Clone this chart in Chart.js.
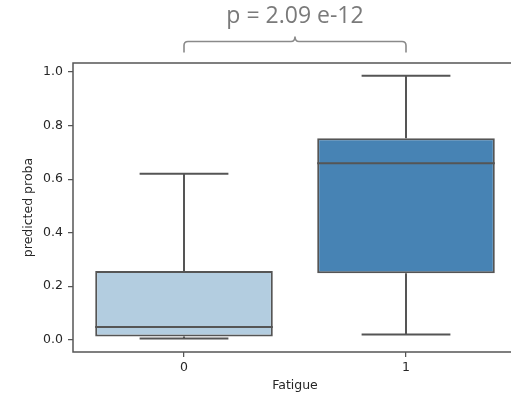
<!DOCTYPE html>
<html>
<head>
<meta charset="utf-8">
<script src="https://cdn.jsdelivr.net/npm/chart.js@4/dist/chart.umd.min.js"></script>
<style>
  html, body { margin: 0; padding: 0; background: #fff; overflow: hidden; width: 511px; height: 400px; }
  #wrap { position: absolute; left: 0; top: 0; width: 520px; height: 400px; }
</style>
</head>
<body>
<div id="wrap"><canvas id="c" width="520" height="400"></canvas></div>
<script>
// ---- data ----
const categories = ['0', '1'];
const q1 = [0.012, 0.248];
const median = [0.047, 0.659];
const q3 = [0.257, 0.753];
const whiskerLow = [0.004, 0.019];
const whiskerHigh = [0.620, 0.986];
const boxColors = ['#b3cde0', '#4783b4'];
const yTicks = [0.0, 0.2, 0.4, 0.6, 0.8, 1.0];
const yMin = -0.046, yMax = 1.034;
const annotationText = 'p = 2.09 e-12';
const xTitle = 'Fatigue';
const yTitle = 'predicted proba';

const LINE = '#555555';
const TEXT = '#262626';
const FONT = "'DejaVu Sans', sans-serif";

const boxPlugin = {
  id: 'boxParts',
  afterDatasetsDraw(chart) {
    const ctx = chart.ctx;
    const x = chart.scales.x, y = chart.scales.y;
    const meta = chart.getDatasetMeta(0);
    ctx.save();
    ctx.strokeStyle = LINE;
    ctx.lineWidth = 2;
    ctx.lineCap = 'butt';
    categories.forEach((c, i) => {
      const bar = meta.data[i];
      const cx = x.getPixelForValue(i);
      const half = bar.width / 2;
      const capHalf = half / 2;
      ctx.beginPath();
      ctx.moveTo(cx, y.getPixelForValue(q3[i]));
      ctx.lineTo(cx, y.getPixelForValue(whiskerHigh[i]));
      ctx.moveTo(cx, y.getPixelForValue(q1[i]));
      ctx.lineTo(cx, y.getPixelForValue(whiskerLow[i]));
      ctx.stroke();
      ctx.beginPath();
      const yh = y.getPixelForValue(whiskerHigh[i]);
      const yl = y.getPixelForValue(whiskerLow[i]);
      ctx.moveTo(cx - capHalf, yh); ctx.lineTo(cx + capHalf, yh);
      ctx.moveTo(cx - capHalf, yl); ctx.lineTo(cx + capHalf, yl);
      ctx.stroke();
      ctx.beginPath();
      const ym = y.getPixelForValue(median[i]);
      ctx.moveTo(cx - half, ym); ctx.lineTo(cx + half, ym);
      ctx.stroke();
    });
    ctx.restore();
  },
  afterDraw(chart) {
    const ctx = chart.ctx;
    const a = chart.chartArea;
    const x = chart.scales.x;
    ctx.save();
    ctx.strokeStyle = LINE;
    ctx.lineWidth = 1.5;
    ctx.strokeRect(a.left, a.top, a.right - a.left, a.bottom - a.top);
    const x0 = x.getPixelForValue(0), x1 = x.getPixelForValue(1);
    const xm = (x0 + x1) / 2;
    const yb = 41.5, yEnd = 52.5, yPeak = 36.5, r = 4;
    ctx.strokeStyle = '#8a8a8a';
    ctx.lineWidth = 1.6;
    ctx.beginPath();
    ctx.moveTo(x0, yEnd);
    ctx.lineTo(x0, yb + r);
    ctx.quadraticCurveTo(x0, yb, x0 + r, yb);
    ctx.lineTo(xm - r, yb);
    ctx.quadraticCurveTo(xm, yb, xm, yPeak);
    ctx.quadraticCurveTo(xm, yb, xm + r, yb);
    ctx.lineTo(x1 - r, yb);
    ctx.quadraticCurveTo(x1, yb, x1, yb + r);
    ctx.lineTo(x1, yEnd);
    ctx.stroke();
    ctx.fillStyle = '#7a7a7a';
    ctx.font = "23px 'Open Sans', sans-serif";
    ctx.textAlign = 'center';
    ctx.textBaseline = 'alphabetic';
    ctx.fillText(annotationText, xm, 23);
    ctx.restore();
  }
};

new Chart(document.getElementById('c'), {
  type: 'bar',
  data: {
    labels: categories,
    datasets: [{
      data: categories.map((c, i) => [q1[i], q3[i]]),
      backgroundColor: boxColors,
      borderColor: LINE,
      borderWidth: 2,
      borderSkipped: false,
      barPercentage: 0.8,
      categoryPercentage: 1.0
    }]
  },
  options: {
    responsive: false,
    animation: false,
    layout: { padding: { top: 63, right: 3, left: 0, bottom: 0 } },
    plugins: { legend: { display: false }, tooltip: { enabled: false } },
    scales: {
      x: {
        offset: true,
        grid: { display: true, offset: false, drawOnChartArea: false, drawTicks: true, tickLength: 5, color: LINE, lineWidth: 1.25 },
        border: { display: false },
        ticks: { color: TEXT, font: { family: FONT, size: 12.5 }, padding: 3 },
        title: { display: true, text: xTitle, color: TEXT, font: { family: FONT, size: 12.5 }, padding: { top: 0, bottom: 6.5 } },
        afterFit(s) { s.height = 48; }
      },
      y: {
        min: yMin, max: yMax,
        afterBuildTicks(s) { s.ticks = yTicks.map(v => ({ value: v })); },
        grid: { display: true, drawOnChartArea: false, drawTicks: true, tickLength: 5, color: LINE, lineWidth: 1.25 },
        border: { display: false },
        ticks: { color: TEXT, font: { family: FONT, size: 12.5 }, padding: 5, callback: v => Number(v).toFixed(1) },
        title: { display: true, text: yTitle, color: TEXT, font: { family: FONT, size: 12.5 }, padding: { top: 21.5, bottom: 0 } },
        afterFit(s) { s.width = 73; }
      }
    }
  },
  plugins: [boxPlugin]
});
</script>
</body>
</html>
